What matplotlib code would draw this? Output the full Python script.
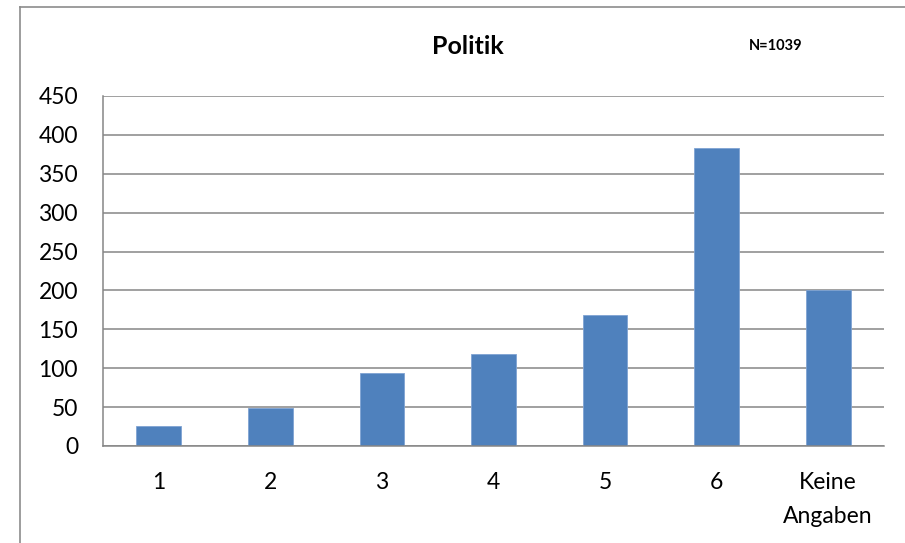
import matplotlib
matplotlib.use('Agg')
import matplotlib.pyplot as plt
from matplotlib.lines import Line2D
import numpy as np

categories = ['1', '2', '3', '4', '5', '6', 'Keine\nAngaben']
counts = [26, 49, 94, 118, 169, 383, 200]
yticks = [0, 50, 100, 150, 200, 250, 300, 350, 400, 450]

bar_color = '#4F81BD'
grid_color = '#868686'

plt.rcParams['font.family'] = ['Lato', 'DejaVu Sans']

fig = plt.figure(figsize=(9.05, 5.43), dpi=100)
ax = fig.add_axes([103 / 905, 1 - 446 / 543, 781 / 905, 350 / 543])

x = np.arange(len(categories))
ax.bar(x, counts, width=0.4, color=bar_color, edgecolor='#7FA3D3',
       linewidth=0.6, zorder=3)

ax.set_xlim(-0.5, len(categories) - 0.5)
ax.set_ylim(0, 450)
ax.set_yticks(yticks)
ax.set_xticks(x)
ax.set_xticklabels(categories, linespacing=1.75)
ax.grid(axis='y', color=grid_color, linewidth=1.1, zorder=0)
ax.tick_params(axis='both', length=0, labelsize=16.5, colors='black')
ax.tick_params(axis='y', pad=18)
ax.tick_params(axis='x', pad=19)

for side in ('top', 'right'):
    ax.spines[side].set_visible(False)
for side in ('left', 'bottom'):
    ax.spines[side].set_color(grid_color)
    ax.spines[side].set_linewidth(1.1)
    ax.spines[side].set_zorder(4)

fig.text(468 / 905, 1 - 46 / 543, 'Politik', ha='center', va='center',
         fontsize=18, fontweight='bold')
fig.text(776 / 905, 1 - 46 / 543, 'N=1039', ha='center', va='center',
         fontsize=10.5, fontweight='bold')

# chart frame (only top and left edges fall inside the image)
fig.add_artist(Line2D([20 / 905, 20 / 905], [0, 1 - 7 / 543],
                      transform=fig.transFigure, color='#8c8c8c', linewidth=1.2))
fig.add_artist(Line2D([20 / 905, 1], [1 - 7 / 543, 1 - 7 / 543],
                      transform=fig.transFigure, color='#8c8c8c', linewidth=1.2))

plt.savefig('out.png', dpi=100)
